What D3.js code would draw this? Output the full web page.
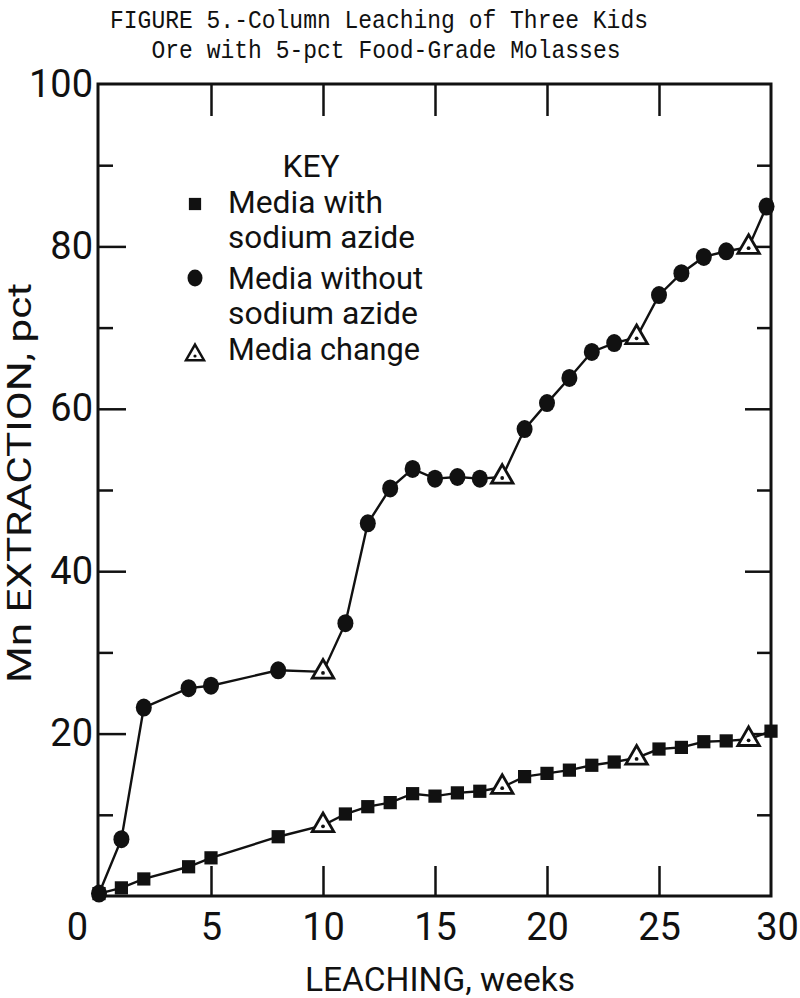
<!DOCTYPE html>
<html>
<head>
<meta charset="utf-8">
<script src="https://cdn.jsdelivr.net/npm/d3@7"></script>
<style>
  html, body { margin: 0; padding: 0; background: #fff; }
  svg { display: block; }
  .lab { font-family: Roboto, "Open Sans", sans-serif; font-weight: 400; fill: #111; }
</style>
</head>
<body>
<svg id="chart" width="800" height="998"></svg>
<script>
// ---- data ----
const titleLines = ["FIGURE 5.-Column Leaching of Three Kids", "Ore with 5-pct Food-Grade Molasses"];
const xTickValues = [0, 5, 10, 15, 20, 25, 30];
const yTickLabels = [20, 40, 60, 80, 100];
const yMinorTicks = [10, 30, 50, 70, 90];

const azideWeeks  = [0, 1, 2, 4, 5, 8, 10, 11, 12, 13, 14, 15, 16, 17, 18, 19, 20, 21, 22, 23, 24, 25, 26, 27, 28, 29, 30];
const azideValues = [0.3, 1.0, 2.1, 3.6, 4.7, 7.3, 8.7, 10.1, 11.0, 11.5, 12.6, 12.3, 12.7, 12.9, 13.4, 14.7, 15.1, 15.5, 16.1, 16.5, 17.0, 18.1, 18.3, 19.0, 19.1, 19.3, 20.3];

const noAzideWeeks  = [0, 1, 2, 4, 5, 8, 10, 11, 12, 13, 14, 15, 16, 17, 18, 19, 20, 21, 22, 23, 24, 25, 26, 27, 28, 29, 29.8];
const noAzideValues = [0.3, 7.0, 23.2, 25.6, 25.9, 27.8, 27.6, 33.6, 45.9, 50.2, 52.6, 51.4, 51.6, 51.4, 51.6, 57.5, 60.7, 63.8, 67.0, 68.1, 68.8, 74.0, 76.7, 78.7, 79.4, 79.9, 84.9];

const mediaChangeWeeks = [10, 18, 24, 29];

const legendLines = ["Media with", "sodium azide", "Media without", "sodium azide", "Media change"];

// ---- chart ----
const svg = d3.select("#chart");
const x = d3.scaleLinear().domain([0, 30]).range([99, 771]);
const y = d3.scaleLinear().domain([0, 100]).range([896, 84]);

// title
svg.append("g").selectAll("text").data(titleLines).join("text")
  .attr("x", (d, i) => i === 0 ? 379 : 386)
  .attr("y", (d, i) => i === 0 ? 28 : 58)
  .attr("text-anchor", "middle")
  .attr("font-family", "'Liberation Mono', 'DejaVu Sans Mono', monospace")
  .attr("font-size", 26)
  .attr("textLength", (d, i) => i === 0 ? 538 : 469)
  .attr("lengthAdjust", "spacingAndGlyphs")
  .attr("fill", "#111")
  .text(d => d);

// frame
svg.append("rect")
  .attr("x", x(0) - 1).attr("y", y(100))
  .attr("width", x(30) - x(0) + 1).attr("height", y(0) - y(100))
  .attr("fill", "none").attr("stroke", "#111").attr("stroke-width", 3);

function styleAxis(g) {
  g.select(".domain").remove();
  g.selectAll(".tick line").attr("stroke", "#111").attr("stroke-width", 2.5);
  g.selectAll("text").attr("class", "lab").attr("font-size", 38).attr("fill", "#111")
    .attr("font-weight", 300);
}

// bottom axis with labels
const bottom = svg.append("g").attr("transform", `translate(0,${y(0)})`)
  .call(d3.axisBottom(x).tickValues(xTickValues).tickSize(-30).tickPadding(17).tickFormat(d3.format("d")))
  .call(styleAxis);
bottom.selectAll(".tick").filter(d => d === 0 || d === 30).select("line").remove();
bottom.selectAll(".tick").filter(d => d === 0).select("text").attr("dx", -22);
bottom.selectAll(".tick").filter(d => d === 30).select("text").attr("dx", 6);
bottom.selectAll("text").attr("font-family", null);

// top axis ticks
svg.append("g").attr("transform", `translate(0,${y(100)})`)
  .call(d3.axisTop(x).tickValues([5, 10, 15, 20, 25]).tickSize(-32).tickFormat(""))
  .call(styleAxis);

// left axis: major with labels
const left = svg.append("g").attr("transform", `translate(${x(0)},0)`)
  .call(d3.axisLeft(y).tickValues(yTickLabels).tickSize(-27).tickPadding(6).tickFormat(d3.format("d")))
  .call(styleAxis);
left.selectAll(".tick").filter(d => d === 100).select("line").remove();
// left minor
svg.append("g").attr("transform", `translate(${x(0)},0)`)
  .call(d3.axisLeft(y).tickValues(yMinorTicks).tickSize(-14).tickFormat(""))
  .call(styleAxis);
// right axis ticks
svg.append("g").attr("transform", `translate(${x(30)},0)`)
  .call(d3.axisRight(y).tickValues([20, 40, 60, 80]).tickSize(-26).tickFormat(""))
  .call(styleAxis);
svg.append("g").attr("transform", `translate(${x(30)},0)`)
  .call(d3.axisRight(y).tickValues(yMinorTicks).tickSize(-14).tickFormat(""))
  .call(styleAxis);

// axis titles
svg.append("text").attr("class", "lab")
  .attr("x", 440).attr("y", 991).attr("text-anchor", "middle")
  .attr("font-size", 34).attr("textLength", 270).attr("lengthAdjust", "spacingAndGlyphs")
  .text("LEACHING, weeks");
svg.append("text").attr("class", "lab")
  .attr("transform", "translate(31,483) rotate(-90)").attr("text-anchor", "middle")
  .attr("font-size", 33).attr("textLength", 400).attr("lengthAdjust", "spacingAndGlyphs")
  .text("Mn EXTRACTION, pct");

// series
const azide = azideWeeks.map((w, i) => ({ w, v: azideValues[i] }));
const noAzide = noAzideWeeks.map((w, i) => ({ w, v: noAzideValues[i] }));
const line = d3.line().x(d => x(d.w)).y(d => y(d.v));

[azide, noAzide].forEach(s => {
  svg.append("path").datum(s).attr("d", line)
    .attr("fill", "none").attr("stroke", "#111").attr("stroke-width", 2.4);
});

const isChange = d => mediaChangeWeeks.includes(d.w);
const triangle = d3.symbol(d3.symbolTriangle, 200);
const square = d3.symbol(d3.symbolSquare, 175);

function drawTriangles(data) {
  const g = svg.append("g").selectAll("g").data(data.filter(isChange)).join("g")
    .attr("transform", d => `translate(${x(d.w)},${y(d.v)})`);
  g.append("path").attr("d", triangle).attr("fill", "#fff").attr("stroke", "#111").attr("stroke-width", 2.8);
  g.append("circle").attr("r", 1.9).attr("cy", 1).attr("fill", "#111");
}

svg.append("g").selectAll("path").data(azide.filter(d => !isChange(d))).join("path")
  .attr("transform", d => `translate(${x(d.w)},${y(d.v)})`)
  .attr("d", square).attr("fill", "#111");
drawTriangles(azide);

svg.append("g").selectAll("ellipse").data(noAzide.filter(d => !isChange(d))).join("ellipse")
  .attr("cx", d => x(d.w)).attr("cy", d => y(d.v))
  .attr("rx", 8).attr("ry", 9).attr("fill", "#111");
drawTriangles(noAzide);

// legend
const leg = svg.append("g");
leg.append("text").attr("class", "lab").attr("x", 311).attr("y", 177)
  .attr("text-anchor", "middle").attr("font-size", 31)
  .attr("textLength", 57).attr("lengthAdjust", "spacingAndGlyphs").text("KEY");
const legY = [213, 248, 289, 324, 360];
const legW = [155, 187, 195, 190, 192];
leg.selectAll("text.item").data(legendLines).join("text")
  .attr("class", "lab item").attr("x", 228).attr("y", (d, i) => legY[i])
  .attr("font-size", 32).attr("textLength", (d, i) => legW[i]).attr("lengthAdjust", "spacingAndGlyphs")
  .text(d => d);
leg.append("path").attr("transform", "translate(195,204)").attr("d", d3.symbol(d3.symbolSquare, 150)).attr("fill", "#111");
leg.append("ellipse").attr("cx", 195).attr("cy", 278).attr("rx", 7.5).attr("ry", 8.5).attr("fill", "#111");
const lt = leg.append("g").attr("transform", "translate(195,355)");
lt.append("path").attr("d", d3.symbol(d3.symbolTriangle, 140)).attr("fill", "#fff").attr("stroke", "#111").attr("stroke-width", 2.5);
lt.append("circle").attr("r", 1.6).attr("cy", 1).attr("fill", "#111");
</script>
</body>
</html>
